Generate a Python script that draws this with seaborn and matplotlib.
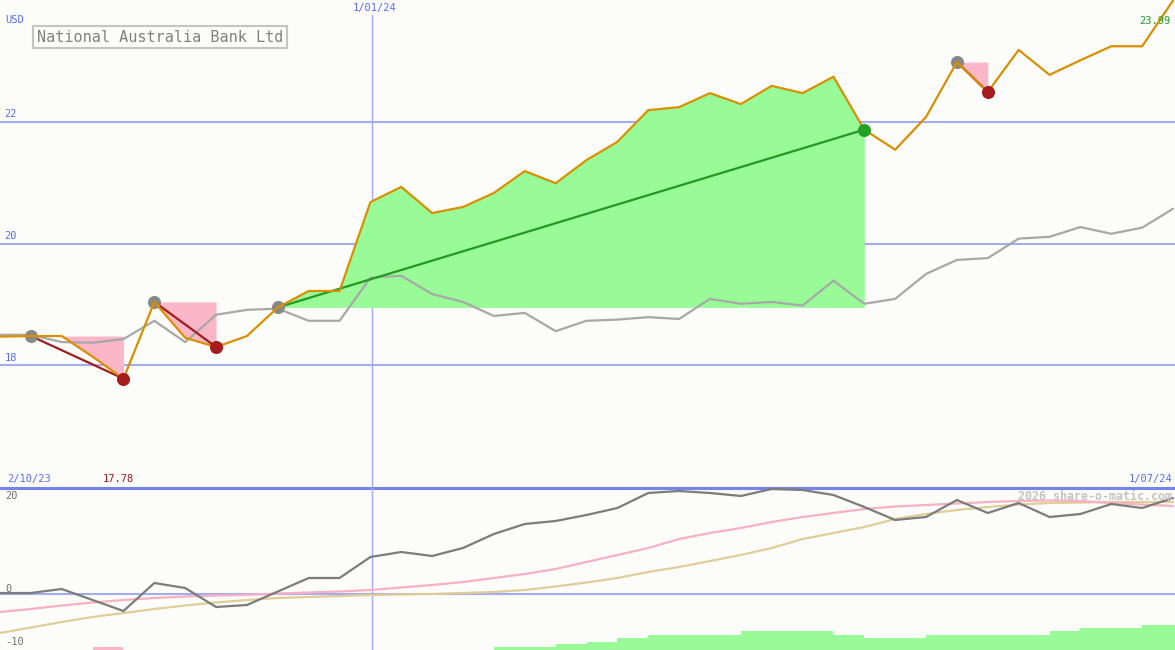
import numpy as np
import pandas as pd
import matplotlib
matplotlib.use("Agg")
import matplotlib.pyplot as plt
import seaborn as sns

# weekly closes, 9 Oct 2023 .. 1 Jul 2024 (index 12 = 1/01/24)
price = [18.47, 18.48, 18.48, 18.14, 17.78, 19.04, 18.45, 18.30, 18.48, 18.95,
         19.22, 19.22, 20.68, 20.93, 20.50, 20.60, 20.83, 21.19, 20.99, 21.37,
         21.67, 22.19, 22.24, 22.47, 22.29, 22.59, 22.47, 22.74, 21.87, 21.54,
         22.08, 22.98, 22.49, 23.18, 22.77, 23.01, 23.24, 23.24, 23.99]
avg = [18.50, 18.50, 18.38, 18.37, 18.43, 18.73, 18.38, 18.83, 18.91, 18.93,
       18.73, 18.73, 19.44, 19.47, 19.17, 19.04, 18.81, 18.86, 18.56, 18.73,
       18.75, 18.79, 18.76, 19.09, 19.01, 19.04, 18.98, 19.39, 19.01, 19.09,
       19.50, 19.73, 19.76, 20.08, 20.11, 20.27, 20.16, 20.26, 20.57]

# lower panel
momentum = [0.2, 0.2, 1.0, -1.2, -3.4, 2.2, 1.2, -2.6, -2.2, 0.5,
            3.2, 3.2, 7.4, 8.4, 7.6, 9.2, 12.0, 14.0, 14.6, 15.8,
            17.2, 20.2, 20.6, 20.2, 19.6, 21.0, 20.8, 19.8, 17.4, 14.8,
            15.4, 18.8, 16.2, 18.2, 15.4, 16.0, 18.0, 17.2, 19.2]
fast_ma = [-3.6, -3.0, -2.3, -1.7, -1.2, -0.8, -0.5, -0.3, -0.2, 0.1,
           0.3, 0.5, 0.8, 1.3, 1.8, 2.4, 3.2, 4.0, 5.0, 6.4,
           7.8, 9.2, 11.0, 12.2, 13.2, 14.4, 15.4, 16.2, 17.0, 17.5,
           17.8, 18.1, 18.4, 18.6, 18.7, 18.6, 18.2, 17.9, 17.6]
slow_ma = [-7.8, -6.7, -5.6, -4.6, -3.8, -3.0, -2.3, -1.7, -1.2, -0.8,
           -0.6, -0.4, -0.2, -0.1, 0.0, 0.2, 0.4, 0.8, 1.5, 2.3,
           3.2, 4.4, 5.4, 6.6, 7.8, 9.2, 11.0, 12.2, 13.4, 15.0,
           16.0, 16.8, 17.4, 17.9, 18.2, 18.3, 18.4, 18.4, 18.4]
hist = [0, 0, 0, -0.6, 0, 0, 0, 0, 0, 0,
        0, 0, 0, 0, 0, 0, 0.6, 0.6, 1.2, 1.7,
        2.4, 3.0, 3.0, 3.0, 3.8, 3.8, 3.8, 3.0, 2.4, 2.4,
        3.0, 3.0, 3.0, 3.0, 3.8, 4.4, 4.4, 5.0, 5.0]

# (entry week, exit week)
trades = [(1, 4), (5, 7), (9, 28), (31, 32)]

weeks = np.arange(len(price))
df = pd.DataFrame({"week": weeks, "price": price, "avg": avg,
                   "momentum": momentum, "fast": fast_ma, "slow": slow_ma})

BG = "#fcfdfa"
BLUE = "#5a6ef0"
GRID = "#a4acf0"
FS = 7.5

sns.set_theme(style="white")
plt.rcParams["font.family"] = ["DejaVu Sans Mono", "DejaVu Sans"]

fig = plt.figure(figsize=(11.75, 6.5), dpi=100, facecolor=BG)
ax1 = fig.add_axes([0, 163 / 650, 1, 487 / 650])
ax2 = fig.add_axes([0, 0, 1, 163 / 650])
xmax = 1175 / (1173 / 38)
for ax in (ax1, ax2):
    ax.set_facecolor(BG)
    ax.set_axis_off()

# ---- top panel ----
for lvl in (22, 20, 18):
    ax1.axhline(lvl, color=GRID, lw=1.5, zorder=0.5)
    ax1.text(0.004, lvl + 0.04, str(lvl), color=BLUE, fontsize=FS,
             transform=ax1.get_yaxis_transform(), va="bottom", ha="left")
ax1.axvline(12.05, ymax=(487 - 15) / 487, color=GRID, lw=1, zorder=0.6)
ax2.axvline(12.05, color=GRID, lw=1, zorder=0.6)

p = np.array(price)
for a, b in trades:
    xs = weeks[a:b + 1]
    seg = p[a:b + 1]
    lvl = p[a]
    gain = p[b] > lvl
    if gain:
        ax1.fill_between(xs, lvl, seg, where=seg >= lvl, interpolate=True,
                         color="#98fb98", lw=0, zorder=1)
    else:
        ax1.fill_between(xs, seg, lvl, where=seg <= lvl, interpolate=True,
                         color="#fbb6c8", lw=0, zorder=1)
    ax1.plot([a, b], [p[a], p[b]], color="#229a22" if gain else "#a01c1c",
             lw=1.6, zorder=3)
    ax1.plot(a, p[a], "o", color="#888888", ms=9.4, mew=0, zorder=3.5)
    ax1.plot(b, p[b], "o", color="#24a024" if gain else "#a51c1c",
             ms=9.4, mew=0, zorder=5)

sns.lineplot(data=df, x="week", y="avg", ax=ax1, color="#a8a8a8", lw=1.6, zorder=2)
sns.lineplot(data=df, x="week", y="price", ax=ax1, color="#d89000", lw=1.6, zorder=4)

fig.text(5 / 1175, 1 - 20 / 650, "USD", color=BLUE, fontsize=FS, va="center")
fig.text(375 / 1175, 1 - 8 / 650, "1/01/24", color=BLUE, fontsize=FS,
         va="center", ha="center")
fig.text(1170 / 1175, 1 - 21 / 650, "23.99", color="#229a22", fontsize=FS,
         va="center", ha="right")
fig.text(37 / 1175, 1 - 37 / 650, "National Australia Bank Ltd", color="#808080",
         fontsize=10.9, va="center", ha="left",
         bbox=dict(boxstyle="square,pad=0.25", fc=BG, ec="#c4c4c4", lw=1.5))
fig.text(7 / 1175, 1 - 479 / 650, "2/10/23", color=BLUE, fontsize=FS, va="center")
fig.text(103 / 1175, 1 - 479 / 650, "17.78", color="#a01c1c", fontsize=FS, va="center")
fig.text(1172 / 1175, 1 - 479 / 650, "1/07/24", color=BLUE, fontsize=FS,
         va="center", ha="right")

# ---- bottom panel ----
ax2.axhline(0, color=GRID, lw=1.5, zorder=0.5)
ax2.axhline(21.2, color="#7484ec", lw=2.2, zorder=0.5, clip_on=False)
h = np.array(hist)
ax2.bar(weeks, np.abs(h), width=1, align="edge", bottom=-11.2,
        color=["#98fb98" if v > 0 else "#fbb6c8" for v in h], lw=0, zorder=1)
sns.lineplot(data=df, x="week", y="slow", ax=ax2, color="#e2cc98", lw=1.6, zorder=2)
sns.lineplot(data=df, x="week", y="fast", ax=ax2, color="#f8b0c4", lw=1.6, zorder=2.5)
sns.lineplot(data=df, x="week", y="momentum", ax=ax2, color="#7c7c7c", lw=1.6, zorder=3)
for v, ypx in ((20, 496), (0, 589), (-10, 642)):
    fig.text(5 / 1175, 1 - ypx / 650, str(v), color="#707070", fontsize=FS, va="center")
fig.text(1172 / 1175, 1 - 497 / 650, "2026 share-o-matic.com", color="#c4c4c4",
         fontsize=8.4, fontweight="bold", va="center", ha="right", zorder=5)

for ax in (ax1, ax2):
    ax.set_xlim(0, xmax)
    ax.set_xlabel("")
    ax.set_ylabel("")
ax1.set_ylim(16, 24)
ax2.set_ylim(-11.2, 21.4)

fig.savefig("out.png", dpi=100, facecolor=BG)
